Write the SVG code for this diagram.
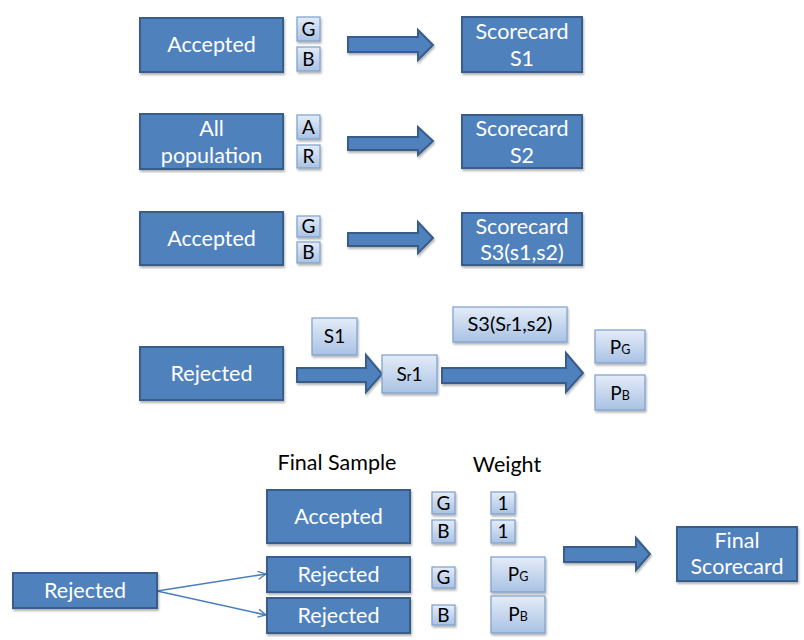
<svg xmlns="http://www.w3.org/2000/svg" width="804" height="640" viewBox="0 0 804 640">
<defs>
<linearGradient id="lg" x1="0" y1="0" x2="0" y2="1">
<stop offset="0" stop-color="#e4ecf8"/>
<stop offset="1" stop-color="#a9c2e4"/>
</linearGradient>
<filter id="sh" x="-20%" y="-20%" width="140%" height="150%">
<feDropShadow dx="1" dy="2" stdDeviation="1.2" flood-color="#000" flood-opacity="0.3"/>
</filter>
<marker id="oa" markerWidth="10" markerHeight="10" refX="9" refY="5" orient="auto" markerUnits="userSpaceOnUse">
<path d="M1,1 L9,5 L1,9" fill="none" stroke="#4a7ebb" stroke-width="1.3"/>
</marker>
</defs>
<style>
.big{fill:#4f81bd;stroke:#385d8a;stroke-width:2;filter:url(#sh)}
.sm{fill:url(#lg);stroke:#7d9fcb;stroke-width:1.2;filter:url(#sh)}
.arr{fill:#4f81bd;stroke:#385d8a;stroke-width:2;filter:url(#sh)}
.wt{fill:#ffffff;font-family:Lato,"Open Sans",sans-serif;font-size:21.5px;text-anchor:middle}
.bt{fill:#000000;font-family:Lato,"Open Sans",sans-serif;font-size:19px;text-anchor:middle}
.hd{fill:#000000;font-family:Lato,"Open Sans",sans-serif;font-size:21.5px;text-anchor:middle}
.sub{font-size:12.5px}
.ln{fill:none;stroke:#4a7ebb;stroke-width:1.5}
</style>

<g id="connectors">
<path class="arr" d="M348,37 H418 V30 L433,45 L418,60 V52 H348 Z"/>
<path class="arr" d="M348,137 H418 V127 L433,141 L418,155 V150 H348 Z"/>
<path class="arr" d="M348,233 H418 V222 L433,238 L418,253 V246 H348 Z"/>
<path class="arr" d="M297,368 H366 V355 L382,374 L366,392 V382 H297 Z"/>
<path class="arr" d="M442,368 H566 V353 L583,373 L566,392 V383 H442 Z"/>
<path class="arr" d="M564,547 H636 V538 L650,554 L636,570 V562 H564 Z"/>
<line class="ln" x1="157" y1="591" x2="266" y2="574" marker-end="url(#oa)"/>
<line class="ln" x1="157" y1="591" x2="266" y2="615" marker-end="url(#oa)"/>
</g>

<g id="row1-accepted"><rect class="big" x="140" y="18" width="143" height="54"/><text class="wt" x="211.5" y="52">Accepted</text></g>
<g id="row1-g"><rect class="sm" x="297" y="17" width="23" height="24"/><text class="bt" x="308.5" y="36">G</text></g>
<g id="row1-b"><rect class="sm" x="297" y="47" width="23" height="24"/><text class="bt" x="308.5" y="66">B</text></g>
<g id="row1-scorecard"><rect class="big" x="462" y="17" width="120" height="55"/><text class="wt" x="522" y="39">Scorecard</text><text class="wt" x="522" y="66">S1</text></g>

<g id="row2-all"><rect class="big" x="140" y="114" width="143" height="55"/><text class="wt" x="211.5" y="136">All</text><text class="wt" x="211.5" y="163">population</text></g>
<g id="row2-a"><rect class="sm" x="297" y="115" width="23" height="24"/><text class="bt" x="308.5" y="134">A</text></g>
<g id="row2-r"><rect class="sm" x="297" y="145" width="23" height="23"/><text class="bt" x="308.5" y="163">R</text></g>
<g id="row2-scorecard"><rect class="big" x="462" y="115" width="120" height="53"/><text class="wt" x="522" y="136">Scorecard</text><text class="wt" x="522" y="163">S2</text></g>

<g id="row3-accepted"><rect class="big" x="140" y="212" width="143" height="53"/><text class="wt" x="211.5" y="246">Accepted</text></g>
<g id="row3-g"><rect class="sm" x="297" y="216" width="23" height="21"/><text class="bt" x="308.5" y="233">G</text></g>
<g id="row3-b"><rect class="sm" x="297" y="242" width="23" height="21"/><text class="bt" x="308.5" y="259">B</text></g>
<g id="row3-scorecard"><rect class="big" x="462" y="213" width="120" height="52"/><text class="wt" x="522" y="234">Scorecard</text><text class="wt" x="522" y="260">S3(s1,s2)</text></g>

<g id="row4-rejected"><rect class="big" x="140" y="347" width="143" height="53"/><text class="wt" x="211.5" y="381">Rejected</text></g>
<g id="row4-s1"><rect class="sm" x="312" y="318" width="45" height="37"/><text class="bt" x="334.5" y="343">S1</text></g>
<g id="row4-sr1"><rect class="sm" x="382" y="355" width="55" height="38"/><text class="bt" x="409.5" y="381">S<tspan class="sub">r</tspan>1</text></g>
<g id="row4-s3"><rect class="sm" x="453" y="307" width="114" height="35"/><text class="bt" x="510" y="331" style="font-size:20px">S3(S<tspan class="sub">r</tspan>1,s2)</text></g>
<g id="row4-pg"><rect class="sm" x="595" y="330" width="50" height="33"/><text class="bt" x="620" y="354">P<tspan class="sub">G</tspan></text></g>
<g id="row4-pb"><rect class="sm" x="595" y="375" width="50" height="35"/><text class="bt" x="620" y="400">P<tspan class="sub">B</tspan></text></g>

<g id="header-final-sample"><text class="hd" x="337" y="470">Final Sample</text></g>
<g id="header-weight"><text class="hd" x="507" y="472">Weight</text></g>

<g id="final-accepted"><rect class="big" x="267" y="490" width="143" height="53"/><text class="wt" x="338.5" y="524">Accepted</text></g>
<g id="final-g1"><rect class="sm" x="432" y="492" width="23" height="22"/><text class="bt" x="443.5" y="510">G</text></g>
<g id="final-b1"><rect class="sm" x="432" y="520" width="23" height="23"/><text class="bt" x="443.5" y="538">B</text></g>
<g id="final-w1"><rect class="sm" x="491" y="492" width="24" height="22"/><text class="bt" x="503" y="510">1</text></g>
<g id="final-w2"><rect class="sm" x="491" y="520" width="24" height="23"/><text class="bt" x="503" y="538">1</text></g>
<g id="final-rejected-g"><rect class="big" x="267" y="557" width="143" height="35"/><text class="wt" x="338.5" y="582">Rejected</text></g>
<g id="final-rejected-b"><rect class="big" x="267" y="598" width="143" height="35"/><text class="wt" x="338.5" y="623">Rejected</text></g>
<g id="final-g2"><rect class="sm" x="432" y="567" width="23" height="21"/><text class="bt" x="443.5" y="584">G</text></g>
<g id="final-b2"><rect class="sm" x="432" y="605" width="23" height="20"/><text class="bt" x="443.5" y="622">B</text></g>
<g id="final-pg"><rect class="sm" x="491" y="557" width="54" height="35"/><text class="bt" x="518" y="581">P<tspan class="sub">G</tspan></text></g>
<g id="final-pb"><rect class="sm" x="491" y="596" width="54" height="37"/><text class="bt" x="518" y="621">P<tspan class="sub">B</tspan></text></g>
<g id="left-rejected"><rect class="big" x="13" y="573" width="144" height="35"/><text class="wt" x="85" y="598">Rejected</text></g>
<g id="final-scorecard"><rect class="big" x="677" y="527" width="120" height="54"/><text class="wt" x="737" y="548">Final</text><text class="wt" x="737" y="574">Scorecard</text></g>
</svg>
